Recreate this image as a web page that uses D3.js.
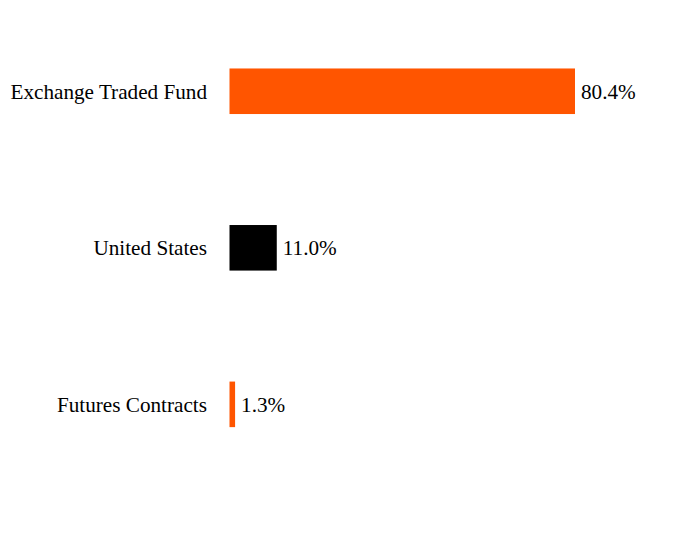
<!DOCTYPE html>
<html>
<head>
<meta charset="utf-8">
<script src="https://cdn.jsdelivr.net/npm/d3@7"></script>
<style>
  body { margin: 0; background: #fff; }
</style>
</head>
<body>
<svg id="chart"></svg>
<script>
// Data
const categories = ["Exchange Traded Fund", "United States", "Futures Contracts"];
const values = [80.4, 11.0, 1.3];
const barColors = ["#ff5500", "#000000", "#ff5500"];

const width = 696;
const height = 540;
const font = "'Liberation Serif', 'Times New Roman', Times, serif";

const svg = d3.select("#chart")
    .attr("width", width)
    .attr("height", height)
    .style("font-family", font);

// Scales
const x = d3.scaleLinear()
    .domain([0, 80.4])
    .range([229.5, 575]);

const y = d3.scaleBand()
    .domain(categories)
    .range([35.6, 460])
    .paddingInner(0.709)
    .paddingOuter(0.21);

// Bars
svg.append("g")
  .selectAll("rect")
  .data(categories)
  .join("rect")
    .attr("x", x(0))
    .attr("y", d => y(d))
    .attr("width", (d, i) => x(values[i]) - x(0))
    .attr("height", y.bandwidth())
    .attr("fill", (d, i) => barColors[i]);

// Category labels
svg.append("g")
  .selectAll("text")
  .data(categories)
  .join("text")
    .attr("x", 207)
    .attr("y", d => y(d) + y.bandwidth() / 2)
    .attr("dy", "0.36em")
    .attr("text-anchor", "end")
    .attr("font-family", font)
    .attr("font-size", 21.2)
    .attr("fill", "#000")
    .text(d => d);

// Value labels
svg.append("g")
  .selectAll("text")
  .data(categories)
  .join("text")
    .attr("x", (d, i) => x(values[i]) + 6)
    .attr("y", d => y(d) + y.bandwidth() / 2)
    .attr("dy", "0.36em")
    .attr("font-family", font)
    .attr("font-size", 21.2)
    .attr("fill", "#000")
    .text((d, i) => values[i].toFixed(1) + "%");
</script>
</body>
</html>
